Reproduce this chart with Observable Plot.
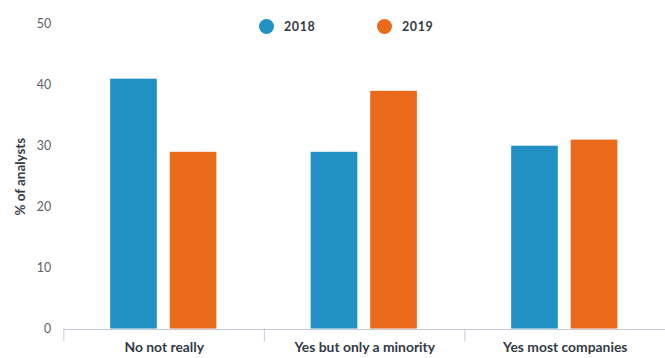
<!DOCTYPE html>
<html><head><meta charset="utf-8">
<script src="https://cdn.jsdelivr.net/npm/d3@7"></script>
<script src="https://cdn.jsdelivr.net/npm/@observablehq/plot@0.6"></script>
<style>
body{margin:0;overflow:hidden;background:#fff;font-family:Lato,"DejaVu Sans",sans-serif}
#wrap{position:relative;width:665px;height:358px;overflow:hidden}
.lg{position:absolute;top:19px;height:14px;display:flex;align-items:center;font-weight:bold;font-size:12.5px;color:#333a45;letter-spacing:0.6px;white-space:nowrap}
.lg span.dot{display:inline-block;width:15px;height:15px;border-radius:50%;margin-right:10px}
[aria-label="y-axis label"]{font-weight:bold;fill:#333a45;font-size:13.5px}
[aria-label="fx-axis tick label"]{font-weight:bold;fill:#333a45}
</style></head>
<body><div id="wrap"></div>
<script>
const categories = ["No not really", "Yes but only a minority", "Yes most companies"];
const years = ["2018", "2019"];
const values2018 = [41, 29, 30];
const values2019 = [29, 39, 31];
const colors = ["#2191c4", "#ea6a1b"];
const yTicks = [0, 10, 20, 30, 40, 50];

const data = [];
categories.forEach((c, i) => {
  data.push({category: c, year: years[0], value: values2018[i]});
  data.push({category: c, year: years[1], value: values2019[i]});
});

const W = 670, ML = 63, MR = 0;
const step = (W - ML - MR) / categories.length;

const chart = Plot.plot({
  width: W,
  height: 358,
  marginLeft: ML,
  marginRight: MR,
  marginTop: 24,
  marginBottom: 27,
  style: {fontFamily: "Lato, 'DejaVu Sans', sans-serif", fontSize: "12.5px", color: "#5a5f68", background: "#fff"},
  fx: {domain: categories, paddingInner: 0, paddingOuter: 0},
  x: {domain: years, paddingInner: 0.21, paddingOuter: 0.77, axis: null},
  y: {domain: [0, 50]},
  color: {domain: years, range: colors},
  marks: [
    Plot.ruleY([0], {stroke: "#c7ccd6", strokeWidth: 1, dy: 0.5}),
    Plot.barY(data, {fx: "category", x: "year", y: "value", fill: "year"}),
    Plot.axisY({ticks: yTicks, tickSize: 0, tickPadding: 13, label: "% of analysts", labelArrow: "none", labelAnchor: "center", labelOffset: 49, fill: "#5a5f68", fontSize: 12.5}),
    Plot.axisFx({anchor: "bottom", tickSize: 13, tickFormat: () => "", dx: -step / 2, stroke: "#c7ccd6", label: null}),
    Plot.axisFx({anchor: "bottom", tickSize: 0, tickPadding: 13, label: null, fontSize: 14})
  ]
});
const wrap = document.getElementById("wrap");
wrap.appendChild(chart);

const legendPos = [259, 377];
years.forEach((y, i) => {
  const d = document.createElement("div");
  d.className = "lg";
  d.style.left = legendPos[i] + "px";
  d.innerHTML = `<span class="dot" style="background:${colors[i]}"></span>${y}`;
  wrap.appendChild(d);
});
</script>
</body></html>
